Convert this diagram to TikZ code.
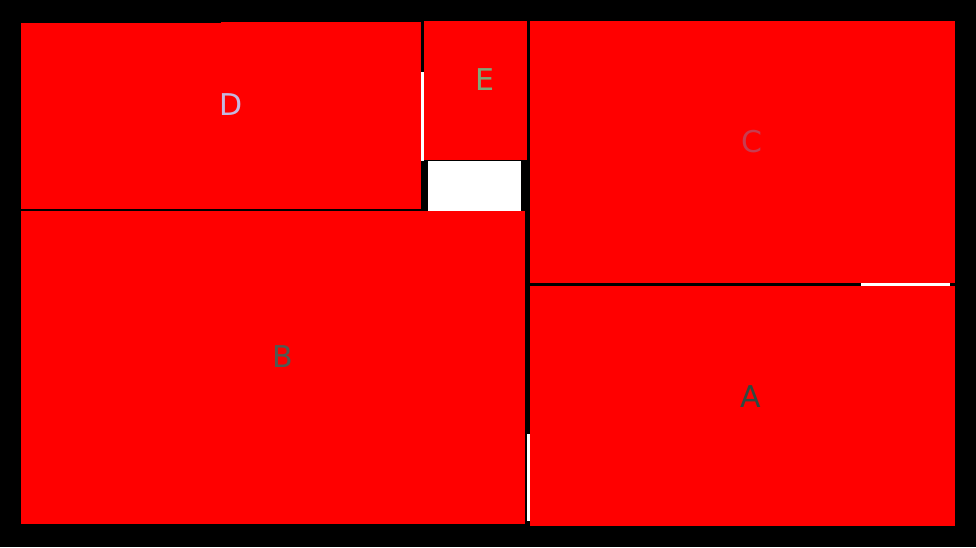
\documentclass[tikz,border=0pt]{standalone}
\usepackage{fontspec}
\setsansfont{DejaVu Sans}
\definecolor{labA}{RGB}{46,74,64}
\definecolor{labB}{RGB}{80,90,82}
\definecolor{labC}{RGB}{200,60,80}
\definecolor{labD}{RGB}{196,184,224}
\definecolor{labE}{RGB}{128,168,120}

\begin{document}
\begin{tikzpicture}[x=1pt, y=-1pt,
    lbl/.style={inner sep=0pt, font=\sffamily\fontsize{30}{30}\selectfont}]
    % Draw background
    \fill[black] (0,0) rectangle (976,547);

    % Draw packed rectangles
    \fill[red] (530,286) rectangle (955,526); % A
    \fill[red] (21,211) rectangle (525,524); % B
    \fill[red] (530,21) rectangle (955,283); % C
    \fill[red] (21,23) rectangle (421,209); % D
    \fill[red] (221,22) rectangle (421,25);
    \fill[red] (424,21) rectangle (527,160); % E

    % Highlight free space and seams
    \fill[white] (428,161) rectangle (521,211);
    \fill[white] (421,72) rectangle (424,161);
    \fill[white] (861,283) rectangle (950,285.5);
    \fill[white] (527,434) rectangle (529.5,521);

    % Labels
    \node[lbl, text=labA] (nameA) at (751,397) {A};
    \node[lbl, text=labB] (nameB) at (283,357) {B};
    \node[lbl, text=labC] (nameC) at (752,142) {C};
    \node[lbl, text=labD] (nameD) at (231,105) {D};
    \node[lbl, text=labE] (nameE) at (485,80) {E};
\end{tikzpicture}
\end{document}
